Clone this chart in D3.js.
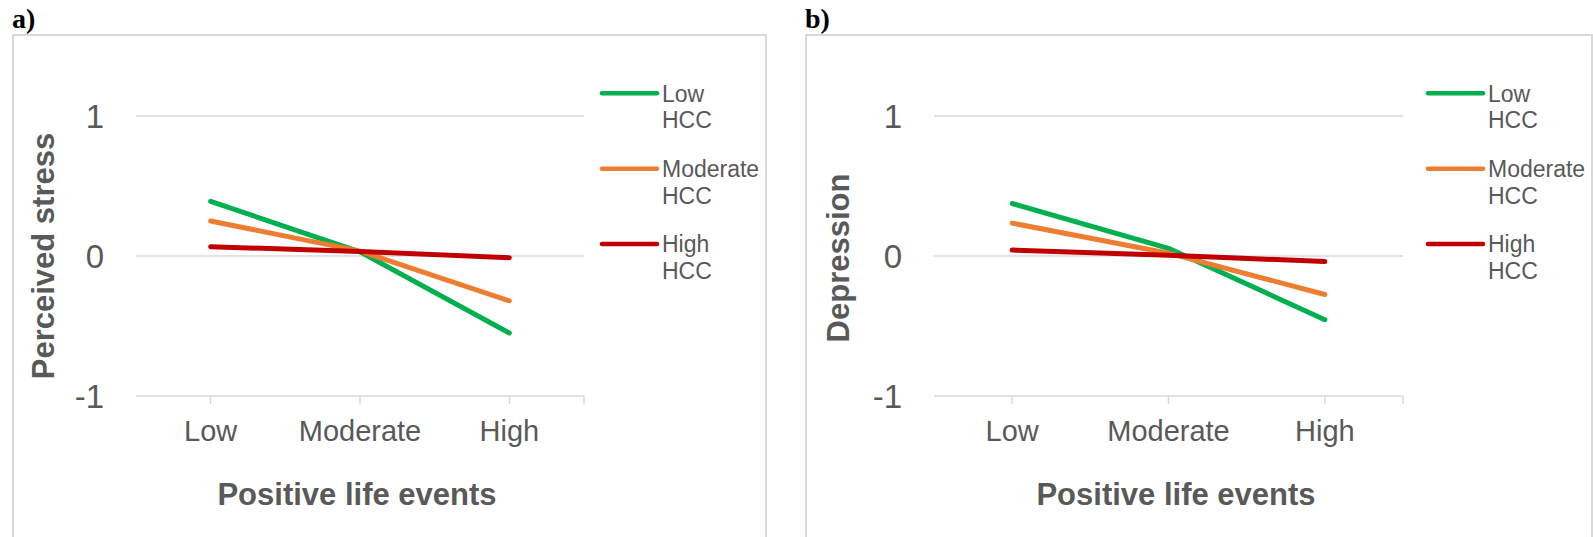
<!DOCTYPE html>
<html>
<head>
<meta charset="utf-8">
<script src="https://cdn.jsdelivr.net/npm/d3@7"></script>
<style>
  html, body { margin: 0; padding: 0; background: #fff; }
  svg { display: block; }
  text { font-family: "Liberation Sans", Arial, sans-serif; fill: #595959; }
</style>
</head>
<body>
<div id="container"></div>
<script>
const categories = ['Low', 'Moderate', 'High'];
const seriesNames = [['Low', 'HCC'], ['Moderate', 'HCC'], ['High', 'HCC']];
const seriesColors = ['#00b050', '#ed7d31', '#c00000'];
const yTicks = [-1, 0, 1];

// panel a) perceived stress
const stressLowHCC = [0.39, 0.03, -0.55];
const stressModHCC = [0.25, 0.035, -0.32];
const stressHighHCC = [0.066, 0.033, -0.012];

// panel b) depression
const deprLowHCC = [0.375, 0.055, -0.455];
const deprModHCC = [0.235, 0.02, -0.275];
const deprHighHCC = [0.042, 0.006, -0.04];

const panels = [
  { tag: 'a)', ytitle: 'Perceived stress', series: [stressLowHCC, stressModHCC, stressHighHCC],
    box: [13, 35, 766, 560], plot: [136, 584], titleX: 357, ytitleX: 54, ytitleY: 256, legendX: 602 },
  { tag: 'b)', ytitle: 'Depression', series: [deprLowHCC, deprModHCC, deprHighHCC],
    box: [806, 35, 1592, 560], plot: [934, 1403], titleX: 1176, ytitleX: 849, ytitleY: 258, legendX: 1428 }
];

const width = 1593, height = 537;
const svg = d3.select('#container').append('svg')
  .attr('width', width)
  .attr('height', height);

const y = d3.scaleLinear().domain([-1, 1]).range([396, 116]);

panels.forEach(p => drawPanel(svg, p));

function drawPanel(svg, p) {
  const g = svg.append('g');

  // chart area frame
  g.append('rect')
    .attr('x', p.box[0]).attr('y', p.box[1])
    .attr('width', p.box[2] - p.box[0]).attr('height', p.box[3] - p.box[1])
    .attr('fill', 'none').attr('stroke', '#d9d9d9').attr('stroke-width', 2);

  g.append('text')
    .attr('x', p.box[0] - 1).attr('y', 28)
    .style('font-family', '"Liberation Serif", "Times New Roman", serif')
    .style('font-weight', 'bold').style('font-size', '28px').style('fill', '#000')
    .text(p.tag);

  const x = d3.scalePoint().domain(categories).range(p.plot).padding(0.5);

  // gridlines
  g.append('g').selectAll('line').data(yTicks).enter().append('line')
    .attr('x1', p.plot[0]).attr('x2', p.plot[1])
    .attr('y1', d => y(d)).attr('y2', d => y(d))
    .attr('stroke', '#d9d9d9').attr('stroke-width', 1.5);

  // x ticks (category centres + right end)
  const tickXs = categories.map(c => x(c)).concat([p.plot[1]]);
  g.append('g').selectAll('line').data(tickXs).enter().append('line')
    .attr('x1', d => d).attr('x2', d => d)
    .attr('y1', y(-1)).attr('y2', y(-1) + 8)
    .attr('stroke', '#d9d9d9').attr('stroke-width', 1.5);

  // y tick labels
  g.append('g').selectAll('text').data(yTicks).enter().append('text')
    .attr('x', p.plot[0] - 32).attr('y', d => y(d) + 11.5)
    .attr('text-anchor', 'end').style('font-size', '33px')
    .text(d => d);

  // x tick labels
  g.append('g').selectAll('text').data(categories).enter().append('text')
    .attr('x', d => x(d)).attr('y', y(-1) + 45)
    .attr('text-anchor', 'middle').style('font-size', '29px')
    .text(d => d);

  // axis titles
  g.append('text')
    .attr('x', p.titleX).attr('y', 505)
    .attr('text-anchor', 'middle')
    .style('font-size', '31px').style('font-weight', 'bold')
    .text('Positive life events');

  g.append('text')
    .attr('transform', `translate(${p.ytitleX}, ${p.ytitleY}) rotate(-90)`)
    .attr('text-anchor', 'middle')
    .style('font-size', '31px').style('font-weight', 'bold')
    .text(p.ytitle);

  // lines
  const line = d3.line()
    .x((d, i) => x(categories[i]))
    .y(d => y(d));

  g.append('g').selectAll('path').data(p.series).enter().append('path')
    .attr('d', line)
    .attr('fill', 'none')
    .attr('stroke', (d, i) => seriesColors[i])
    .attr('stroke-width', 5)
    .attr('stroke-linecap', 'round')
    .attr('stroke-linejoin', 'round');

  // legend
  const legend = g.append('g').selectAll('g').data(seriesNames).enter().append('g')
    .attr('transform', (d, i) => `translate(${p.legendX}, ${93.3 + i * 75.4})`);
  legend.append('line')
    .attr('x1', 0).attr('x2', 55)
    .attr('stroke', (d, i) => seriesColors[i])
    .attr('stroke-width', 4.5)
    .attr('stroke-linecap', 'round');
  legend.append('text')
    .attr('x', 60).attr('y', 8.3)
    .style('font-size', '23px')
    .selectAll('tspan').data(d => d).enter().append('tspan')
    .attr('x', 60).attr('dy', (d, i) => i ? 26.7 : 0)
    .text(d => d);
}
</script>
</body>
</html>
